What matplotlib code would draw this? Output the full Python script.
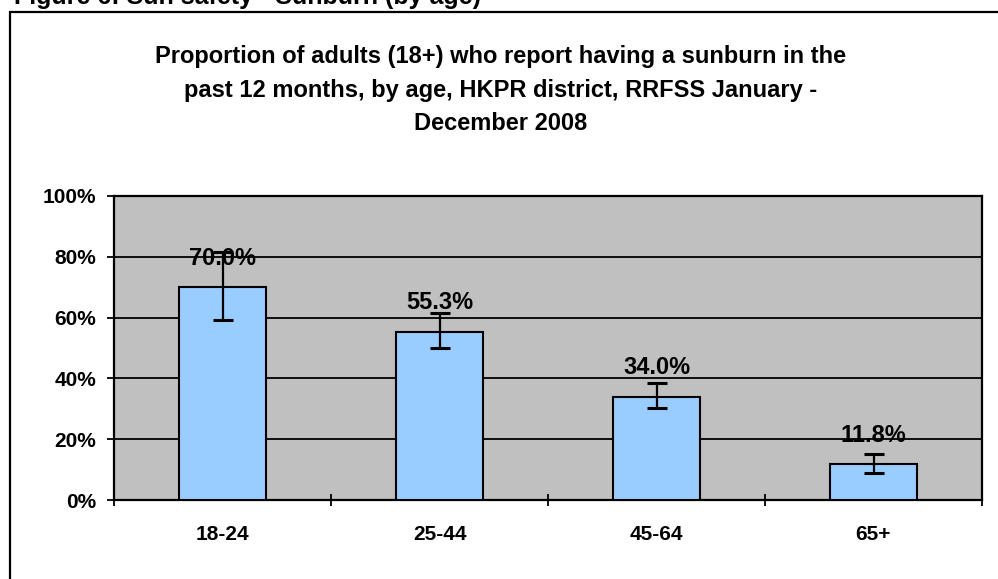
import matplotlib
matplotlib.use("Agg")
import matplotlib.pyplot as plt
from matplotlib.patches import Rectangle

# Data
ages = ['18-24', '25-44', '45-64', '65+']
pct = [70.0, 55.3, 34.0, 11.8]
ci_low = [59.2, 50.0, 30.3, 8.9]
ci_high = [81.5, 61.5, 38.5, 15.1]
yticks = [0, 20, 40, 60, 80, 100]

W, H = 998, 579
fig = plt.figure(figsize=(W / 100, H / 100), dpi=100)
plt.rcParams['font.family'] = ['Liberation Sans', 'DejaVu Sans']

# outer chart frame (runs off the right / bottom edge)
fig.patches.append(Rectangle((10 / W, -0.2), 1.2, 1.2 - 12 / H, transform=fig.transFigure,
                             fill=False, edgecolor='black', linewidth=1.6, clip_on=False))

# heading above the frame, clipped at the top edge like the source
fig.text(14 / W, 1 - 4 / H, 'Figure 6: Sun safety - Sunburn (by age)', fontsize=18,
         fontweight='bold', va='baseline', ha='left')

# title
fig.text(501 / W, 1 - 90 / H,
         'Proportion of adults (18+) who report having a sunburn in the\n'
         'past 12 months, by age, HKPR district, RRFSS January -\n'
         'December 2008',
         ha='center', va='center', fontsize=17, fontweight='bold', linespacing=1.6)

ax = fig.add_axes([114 / W, (H - 500) / H, (982 - 114) / W, (500 - 196) / H])
ax.set_facecolor('#C0C0C0')

x = list(range(len(ages)))
err = [[p - lo for p, lo in zip(pct, ci_low)], [hi - p for p, hi in zip(pct, ci_high)]]
ax.bar(x, pct, width=0.4, color='#99CCFF', edgecolor='black', linewidth=1.5, zorder=3)
ax.errorbar(x, pct, yerr=err, fmt='none', ecolor='black', elinewidth=1.6,
            capsize=7, capthick=2.2, zorder=4)

for xi, p in zip(x, pct):
    ax.annotate(f'{p:.1f}%', (xi, p), xytext=(0, 29), textcoords='offset pixels',
                ha='center', va='center', fontsize=17, fontweight='bold', zorder=5)

ax.set_xlim(-0.5, len(ages) - 0.5)
ax.set_ylim(0, 100)
ax.set_yticks(yticks)
ax.set_yticklabels([f'{t}%' for t in yticks], fontsize=15, fontweight='bold')
for t in yticks[1:-1]:
    ax.axhline(t, color='black', linewidth=1.3, zorder=1)

ax.set_xticks([i - 0.5 for i in range(len(ages) + 1)])
ax.set_xticklabels([])
ax.set_xticks(x, minor=True)
ax.set_xticklabels(ages, minor=True, fontsize=15, fontweight='bold')
ax.tick_params(axis='x', which='major', direction='inout', length=9, width=1.3)
ax.tick_params(axis='x', which='minor', length=0, pad=18)
ax.tick_params(axis='y', direction='out', length=5, width=1.3, pad=8)

for s in ax.spines.values():
    s.set_linewidth(1.6)
    s.set_color('black')

fig.savefig('out.png', dpi=100)
